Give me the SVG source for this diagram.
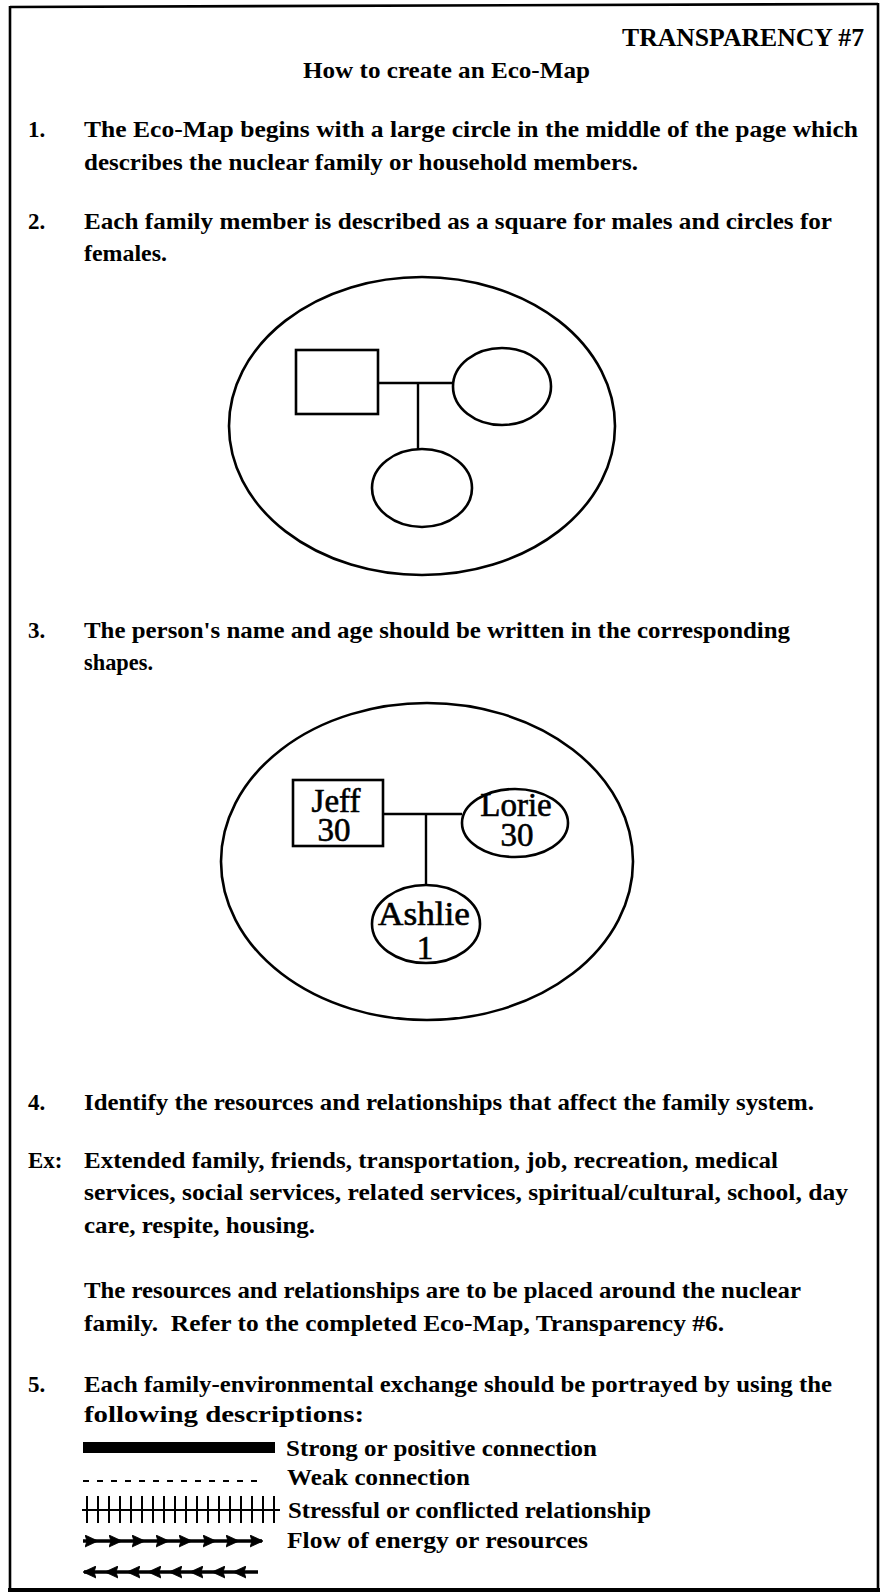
<svg xmlns="http://www.w3.org/2000/svg" width="881" height="1595" viewBox="0 0 881 1595">
  <style>
    .t { font-family: "Liberation Serif", "Times New Roman", serif; font-size: 23px; font-weight: bold; fill: #000; }
    .h { font-size: 25px; }
    .nm { font-family: "Liberation Serif", "Times New Roman", serif; font-size: 33px; fill: #000; stroke: #000; stroke-width: 0.6; text-anchor: middle; }
    .shape { fill: none; stroke: #000; stroke-width: 2.6; }
    .link { fill: none; stroke: #000; stroke-width: 2.4; }
    .pre { white-space: pre; }
    .flow { fill: none; stroke: #000; stroke-width: 3.6; marker-mid: url(#head); marker-end: url(#head); }
  </style>
  <defs>
    <marker id="head" viewBox="0 0 13 13" refX="12" refY="6.5" markerWidth="13" markerHeight="13" markerUnits="userSpaceOnUse" orient="auto">
      <path d="M13,6.5 L0,0.5 L2,6.5 L0,12.5 Z" fill="#000" stroke="#000" stroke-width="0.8" stroke-linejoin="round"/>
    </marker>
  </defs>

  <rect width="881" height="1595" fill="#fff"/>

  <!-- page frame -->
  <g id="frame" fill="none" stroke="#000">
    <path d="M10,7 L878,4" stroke-width="2.6"/>
    <path d="M10,6 L10,1591" stroke-width="2.6"/>
    <path d="M878,3 L878,1591" stroke-width="2.6"/>
    <path d="M8,1590 L880,1590" stroke-width="4"/>
  </g>

  <!-- heading -->
  <g id="heading">
    <text class="t h" x="864" y="46" text-anchor="end" textLength="242" lengthAdjust="spacingAndGlyphs">TRANSPARENCY #7</text>
    <text class="t" x="303" y="78" textLength="287" lengthAdjust="spacingAndGlyphs">How to create an Eco-Map</text>
  </g>

  <!-- step 1 -->
  <g id="step-1">
    <text class="t" x="28" y="137">1.</text>
    <text class="t" x="84" y="137" textLength="774" lengthAdjust="spacingAndGlyphs">The Eco-Map begins with a large circle in the middle of the page which</text>
    <text class="t" x="84" y="170" textLength="554" lengthAdjust="spacingAndGlyphs">describes the nuclear family or household members.</text>
  </g>

  <!-- step 2 -->
  <g id="step-2">
    <text class="t" x="28" y="229">2.</text>
    <text class="t" x="84" y="229" textLength="748" lengthAdjust="spacingAndGlyphs">Each family member is described as a square for males and circles for</text>
    <text class="t" x="84" y="261" textLength="83" lengthAdjust="spacingAndGlyphs">females.</text>
  </g>

  <!-- first household sketch -->
  <g id="household-blank">
    <ellipse class="shape" cx="422" cy="426" rx="193" ry="149"/>
  </g>
  <g id="male-blank">
    <rect class="shape" x="296" y="350" width="82" height="64"/>
  </g>
  <g id="female-blank">
    <ellipse class="shape" cx="502" cy="386.5" rx="49" ry="38.5"/>
  </g>
  <g id="child-blank">
    <ellipse class="shape" cx="422" cy="488" rx="50" ry="39"/>
  </g>

  <!-- step 3 -->
  <g id="step-3">
    <text class="t" x="28" y="638">3.</text>
    <text class="t" x="84" y="638" textLength="706" lengthAdjust="spacingAndGlyphs">The person's name and age should be written in the corresponding</text>
    <text class="t" x="84" y="670" textLength="69" lengthAdjust="spacingAndGlyphs">shapes.</text>
  </g>

  <!-- labelled household sketch -->
  <g id="household">
    <ellipse class="shape" cx="427" cy="861.5" rx="206" ry="158.5"/>
  </g>
  <g id="jeff">
    <rect class="shape" x="293" y="780" width="90" height="66"/>
    <text class="nm" x="336" y="812">Jeff</text>
    <text class="nm" x="334" y="841">30</text>
  </g>
  <g id="lorie">
    <ellipse class="shape" cx="515" cy="823" rx="53" ry="34"/>
    <text class="nm" x="516" y="816">Lorie</text>
    <text class="nm" x="517" y="846">30</text>
  </g>
  <g id="ashlie">
    <ellipse class="shape" cx="426" cy="924" rx="54" ry="39"/>
    <text class="nm" x="424" y="925" textLength="92" lengthAdjust="spacingAndGlyphs">Ashlie</text>
    <text class="nm" x="425" y="959">1</text>
  </g>

  <!-- family lines -->
  <g id="connectors">
    <path class="link" d="M378,383 H453 M418,383 V449"/>
    <path class="link" d="M383,814 H462 M426,814 V885"/>
  </g>

  <!-- step 4 -->
  <g id="step-4">
    <text class="t" x="28" y="1110">4.</text>
    <text class="t" x="84" y="1110" textLength="730" lengthAdjust="spacingAndGlyphs">Identify the resources and relationships that affect the family system.</text>
    <text class="t" x="28" y="1168">Ex:</text>
    <text class="t" x="84" y="1168" textLength="694" lengthAdjust="spacingAndGlyphs">Extended family, friends, transportation, job, recreation, medical</text>
    <text class="t" x="84" y="1200" textLength="764" lengthAdjust="spacingAndGlyphs">services, social services, related services, spiritual/cultural, school, day</text>
    <text class="t" x="84" y="1233" textLength="231" lengthAdjust="spacingAndGlyphs">care, respite, housing.</text>
    <text class="t" x="84" y="1298" textLength="717" lengthAdjust="spacingAndGlyphs">The resources and relationships are to be placed around the nuclear</text>
    <text class="t pre" x="84" y="1331" textLength="640" lengthAdjust="spacingAndGlyphs">family.  Refer to the completed Eco-Map, Transparency #6.</text>
  </g>

  <!-- step 5 -->
  <g id="step-5">
    <text class="t" x="28" y="1392">5.</text>
    <text class="t" x="84" y="1392" textLength="748" lengthAdjust="spacingAndGlyphs">Each family-environmental exchange should be portrayed by using the</text>
    <text class="t" x="84" y="1422" textLength="280" lengthAdjust="spacingAndGlyphs">following descriptions:</text>
  </g>

  <!-- line legend -->
  <g id="legend">
    <rect x="83" y="1442" width="192" height="11" fill="#000"/>
    <text class="t" x="286" y="1456" textLength="311" lengthAdjust="spacingAndGlyphs">Strong or positive connection</text>

    <line x1="83" y1="1481" x2="262" y2="1481" stroke="#000" stroke-width="2" stroke-dasharray="6 8"/>
    <text class="t" x="287" y="1485" textLength="183" lengthAdjust="spacingAndGlyphs">Weak connection</text>

    <path d="M82,1510 H280" stroke="#000" stroke-width="2.2"/>
    <path d="M87,1496 V1523 M98,1496 V1523 M109,1496 V1523 M120,1496 V1523 M131,1496 V1523 M142,1496 V1523 M153,1496 V1523 M164,1496 V1523 M175,1496 V1523 M186,1496 V1523 M197,1496 V1523 M208,1496 V1523 M219,1496 V1523 M230,1496 V1523 M241,1496 V1523 M252,1496 V1523 M263,1496 V1523 M274,1496 V1523" stroke="#000" stroke-width="2"/>
    <text class="t" x="288" y="1518" textLength="363" lengthAdjust="spacingAndGlyphs">Stressful or conflicted relationship</text>

    <polyline class="flow" points="83,1541 97,1541 121,1541 144,1541 168,1541 191,1541 215,1541 238,1541 262,1541"/>
    <text class="t" x="287" y="1548" textLength="301" lengthAdjust="spacingAndGlyphs">Flow of energy or resources</text>

    <polyline class="flow" points="258,1572 234,1572 213,1572 191,1572 170,1572 149,1572 128,1572 106,1572 84,1572"/>
  </g>
</svg>
